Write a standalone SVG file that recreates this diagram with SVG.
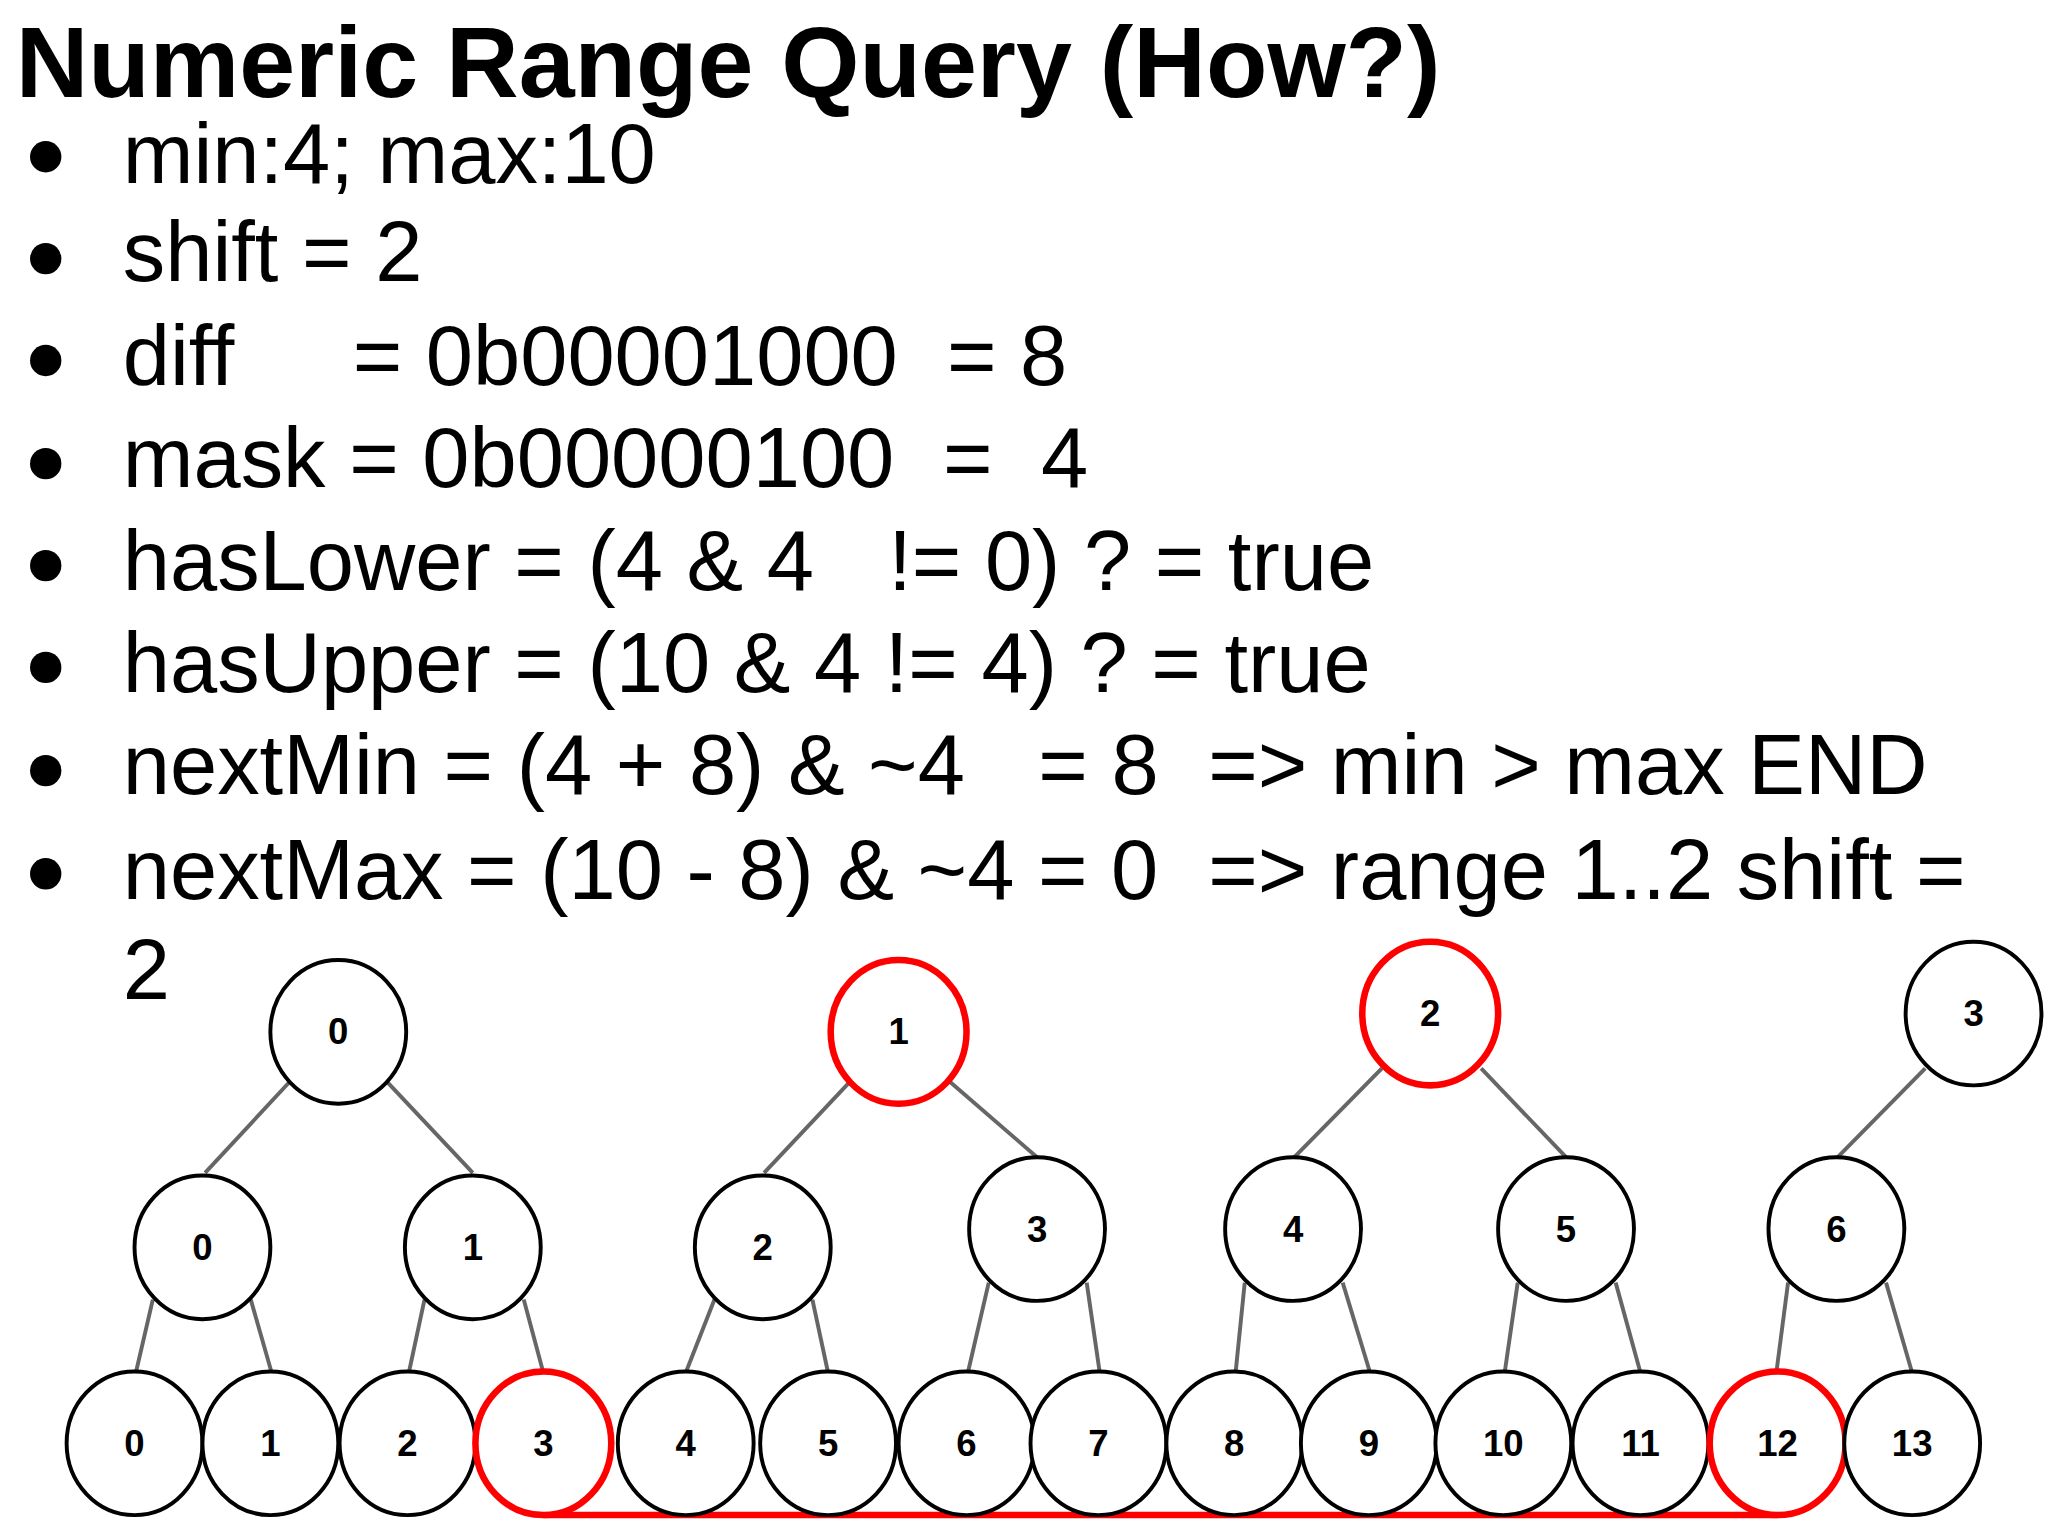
<svg xmlns="http://www.w3.org/2000/svg" width="2048" height="1536" viewBox="0 0 2048 1536">
<style>
.t{font-family:"Liberation Sans",Arial,sans-serif;fill:#000}
.b{font-size:65px}
.n circle,.n ellipse{fill:#fff;stroke:#000;stroke-width:3}
.r circle,.r ellipse{stroke:#f00;stroke-width:5}
.l{font-family:"Liberation Sans",Arial,sans-serif;font-weight:bold;font-size:28px;text-anchor:middle;dominant-baseline:central}
#edges line{stroke:#666;stroke-width:3}
</style>
<rect width="2048" height="1536" fill="#fff"/>
<g transform="scale(1.30612)">
<text class="t" x="12" y="74" font-size="77" font-weight="bold">Numeric Range Query (How?)</text>
<g class="t b">
<circle cx="35" cy="120" r="12"/><circle cx="35" cy="198" r="12"/><circle cx="35" cy="276" r="12"/><circle cx="35" cy="355" r="12"/><circle cx="35" cy="433" r="12"/><circle cx="35" cy="511" r="12"/><circle cx="35" cy="590" r="12"/><circle cx="35" cy="669" r="12"/>
<text x="94" y="140">min:4; max:10</text>
<text x="94" y="215">shift = 2</text>
<text x="94" y="295">diff</text><text x="270" y="295">= 0b00001000</text><text x="725" y="295">= 8</text>
<text x="94" y="373">mask = 0b00000100</text><text x="722" y="373">=</text><text x="797" y="373">4</text>
<text x="94" y="452">hasLower = (4 &amp; 4</text><text x="680" y="452">!= 0) ? = true</text>
<text x="94" y="530">hasUpper = (10 &amp; 4 != 4) ? = true</text>
<text x="94" y="608">nextMin = (4 + 8) &amp; ~4</text><text x="795" y="608">= 8</text><text x="925" y="608">=&gt; min &gt; max END</text>
<text x="94" y="688">nextMax = (10 - 8) &amp; ~4 = 0</text><text x="925" y="688">=&gt; range 1..2 shift =</text>
<text x="94" y="765">2</text>
</g>
<g id="edges">
<line x1="222" y1="828" x2="157" y2="898"/><line x1="296" y1="828" x2="362" y2="898"/>
<line x1="651" y1="828" x2="585" y2="898"/><line x1="727" y1="828" x2="794" y2="886"/>
<line x1="1058" y1="818" x2="991" y2="886"/><line x1="1134" y1="818" x2="1199" y2="886"/>
<line x1="1474" y1="818" x2="1407" y2="886"/>
<line x1="117" y1="995" x2="104" y2="1051"/><line x1="192" y1="995" x2="208" y2="1051"/>
<line x1="325" y1="995" x2="313" y2="1051"/><line x1="401" y1="995" x2="416" y2="1051"/>
<line x1="547" y1="995" x2="525" y2="1051"/><line x1="622" y1="995" x2="634" y2="1051"/>
<line x1="757" y1="982" x2="741" y2="1051"/><line x1="832" y1="982" x2="842" y2="1051"/>
<line x1="953" y1="982" x2="946" y2="1051"/><line x1="1028" y1="982" x2="1049" y2="1051"/>
<line x1="1162" y1="982" x2="1152" y2="1051"/><line x1="1237" y1="982" x2="1256" y2="1051"/>
<line x1="1369" y1="982" x2="1360" y2="1051"/><line x1="1444" y1="982" x2="1464" y2="1051"/>
<line x1="416" y1="1160" x2="1361" y2="1160" style="stroke:#f00;stroke-width:5"/>
</g>
<g id="t0" class="n"><ellipse cx="259" cy="790" rx="52" ry="55"/><text class="l" x="259" y="790">0</text></g>
<g id="t1" class="n r"><ellipse cx="688" cy="790" rx="52" ry="55"/><text class="l" x="688" y="790">1</text></g>
<g id="t2" class="n r"><ellipse cx="1095" cy="776" rx="52" ry="55"/><text class="l" x="1095" y="776">2</text></g>
<g id="t3" class="n"><ellipse cx="1511" cy="776" rx="52" ry="55"/><text class="l" x="1511" y="776">3</text></g>
<g id="m0" class="n"><ellipse cx="155" cy="955" rx="52" ry="55"/><text class="l" x="155" y="955">0</text></g>
<g id="m1" class="n"><ellipse cx="362" cy="955" rx="52" ry="55"/><text class="l" x="362" y="955">1</text></g>
<g id="m2" class="n"><ellipse cx="584" cy="955" rx="52" ry="55"/><text class="l" x="584" y="955">2</text></g>
<g id="m3" class="n"><ellipse cx="794" cy="941" rx="52" ry="55"/><text class="l" x="794" y="941">3</text></g>
<g id="m4" class="n"><ellipse cx="990" cy="941" rx="52" ry="55"/><text class="l" x="990" y="941">4</text></g>
<g id="m5" class="n"><ellipse cx="1199" cy="941" rx="52" ry="55"/><text class="l" x="1199" y="941">5</text></g>
<g id="m6" class="n"><ellipse cx="1406" cy="941" rx="52" ry="55"/><text class="l" x="1406" y="941">6</text></g>
<g id="l0" class="n"><ellipse cx="103" cy="1105" rx="52" ry="55"/><text class="l" x="103" y="1105">0</text></g>
<g id="l1" class="n"><ellipse cx="207" cy="1105" rx="52" ry="55"/><text class="l" x="207" y="1105">1</text></g>
<g id="l2" class="n"><ellipse cx="312" cy="1105" rx="52" ry="55"/><text class="l" x="312" y="1105">2</text></g>
<g id="l3" class="n r"><ellipse cx="416" cy="1105" rx="52" ry="55"/><text class="l" x="416" y="1105">3</text></g>
<g id="l4" class="n"><ellipse cx="525" cy="1105" rx="52" ry="55"/><text class="l" x="525" y="1105">4</text></g>
<g id="l5" class="n"><ellipse cx="634" cy="1105" rx="52" ry="55"/><text class="l" x="634" y="1105">5</text></g>
<g id="l6" class="n"><ellipse cx="740" cy="1105" rx="52" ry="55"/><text class="l" x="740" y="1105">6</text></g>
<g id="l7" class="n"><ellipse cx="841" cy="1105" rx="52" ry="55"/><text class="l" x="841" y="1105">7</text></g>
<g id="l8" class="n"><ellipse cx="945" cy="1105" rx="52" ry="55"/><text class="l" x="945" y="1105">8</text></g>
<g id="l9" class="n"><ellipse cx="1048" cy="1105" rx="52" ry="55"/><text class="l" x="1048" y="1105">9</text></g>
<g id="l10" class="n"><ellipse cx="1151" cy="1105" rx="52" ry="55"/><text class="l" x="1151" y="1105">10</text></g>
<g id="l11" class="n"><ellipse cx="1256" cy="1105" rx="52" ry="55"/><text class="l" x="1256" y="1105">11</text></g>
<g id="l12" class="n r"><ellipse cx="1361" cy="1105" rx="52" ry="55"/><text class="l" x="1361" y="1105">12</text></g>
<g id="l13" class="n"><ellipse cx="1464" cy="1105" rx="52" ry="55"/><text class="l" x="1464" y="1105">13</text></g>
</g>
</svg>
